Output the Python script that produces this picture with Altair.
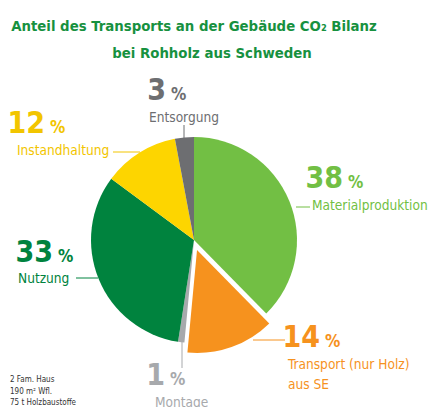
import altair as alt
import pandas as pd

categories = ["Materialproduktion", "Transport (nur Holz)", "Montage", "Nutzung", "Instandhaltung", "Entsorgung"]
values = [38, 14, 1, 33, 12, 3]
colors = ["#72bf44", "#f6921e", "#a7a9ac", "#00833e", "#fdd500", "#6d6e71"]
text_colors = ["#72bf44", "#f6921e", "#a7a9ac", "#00833e", "#f2c500", "#6d6e71"]
title_lines = ["Anteil des Transports an der Gebäude CO₂ Bilanz", "bei Rohholz aus Schweden"]
footnote = ["2 Fam. Haus", "190 m² Wfl.", "75 t Holzbaustoffe"]

df = pd.DataFrame({"cat": categories, "value": values, "order": list(range(len(values)))})

FONT = "DejaVu Sans Condensed, sans-serif"
CX, CY, R = 186, 232, 103

color_scale = alt.Scale(domain=categories, range=colors)
base = alt.Chart(df)

pie = base.mark_arc(outerRadius=R).encode(
    theta=alt.Theta("value:Q", stack=True),
    order=alt.Order("order:Q"),
    color=alt.Color("cat:N", scale=color_scale, legend=None),
    opacity=alt.condition(alt.datum.cat == categories[1], alt.value(0), alt.value(1)),
    x=alt.value(CX), y=alt.value(CY),
)
pie_explode = base.mark_arc(outerRadius=R, xOffset=3, yOffset=10).encode(
    theta=alt.Theta("value:Q", stack=True),
    order=alt.Order("order:Q"),
    color=alt.Color("cat:N", scale=color_scale, legend=None),
    opacity=alt.condition(alt.datum.cat == categories[1], alt.value(1), alt.value(0)),
    x=alt.value(CX), y=alt.value(CY),
)

# layout for labels: (number right edge, number baseline, label x, label baselines, leader)
layout = {
    "Materialproduktion": (335, 180, 304, [202], ("h", 288, 302, 199)),
    "Transport (nur Holz)": (312, 339, 280, [361, 381], ("h", 245, 277, 332)),
    "Montage": (157, 377, 147, [399], ("v", 174, 328, 360)),
    "Nutzung": (45, 254, 10, [275], ("h", 68, 90, 270)),
    "Instandhaltung": (37, 125, 9, [147], ("h", 105, 132, 144)),
    "Entsorgung": (158, 92, 141, [114], ("v", 176, 117, 130)),
}
label_lines = {
    "Transport (nur Holz)": ["Transport (nur Holz)", "aus SE"],
}

layers = [pie, pie_explode]
for i, cat in enumerate(categories):
    nx, ny, lx, lys, lead = layout[cat]
    col = text_colors[i]
    sub = base.transform_filter(alt.datum.cat == cat)
    layers.append(sub.mark_text(font=FONT, fontSize=30, fontWeight="bold", align="right",
                                baseline="alphabetic", color=col).encode(
        text="value:N", x=alt.value(nx), y=alt.value(ny)))
    layers.append(sub.mark_text(font=FONT, fontSize=17, fontWeight="bold", align="left",
                                baseline="alphabetic", color=col, text="%").encode(
        x=alt.value(nx + 5), y=alt.value(ny)))
    lines = label_lines.get(cat, [cat])
    for line, ly in zip(lines, lys):
        layers.append(sub.mark_text(font=FONT, fontSize=13.6, align="left",
                                    baseline="alphabetic", color=col, text=line).encode(
            x=alt.value(lx), y=alt.value(ly)))
    if lead[0] == "h":
        layers.append(sub.mark_rule(color=col, strokeWidth=1).encode(
            x=alt.value(lead[1]), x2=alt.value(lead[2]), y=alt.value(lead[3])))
    else:
        layers.append(sub.mark_rule(color=col, strokeWidth=1).encode(
            x=alt.value(lead[1]), y=alt.value(lead[2]), y2=alt.value(lead[3])))

one = base.transform_filter(alt.datum.order == 0)
layers.append(one.mark_text(font=FONT, fontSize=14.8, fontWeight="bold", align="center",
                            baseline="alphabetic", color="#17913f", text=title_lines[0]).encode(
    x=alt.value(186), y=alt.value(23)))
layers.append(one.mark_text(font=FONT, fontSize=14.8, fontWeight="bold", align="center",
                            baseline="alphabetic", color="#17913f", text=title_lines[1]).encode(
    x=alt.value(204), y=alt.value(50)))
for line, fy in zip(footnote, [374, 386, 397]):
    layers.append(one.mark_text(font=FONT, fontSize=8, align="left",
                                baseline="alphabetic", color="#333333", text=line).encode(
        x=alt.value(2), y=alt.value(fy)))

chart = alt.layer(*layers).properties(
    width=422, height=399, padding=0,
    autosize=alt.AutoSizeParams(type="none"),
).configure_view(stroke=None)
chart.save("out.html", embed_options={"renderer": "svg", "actions": False})
